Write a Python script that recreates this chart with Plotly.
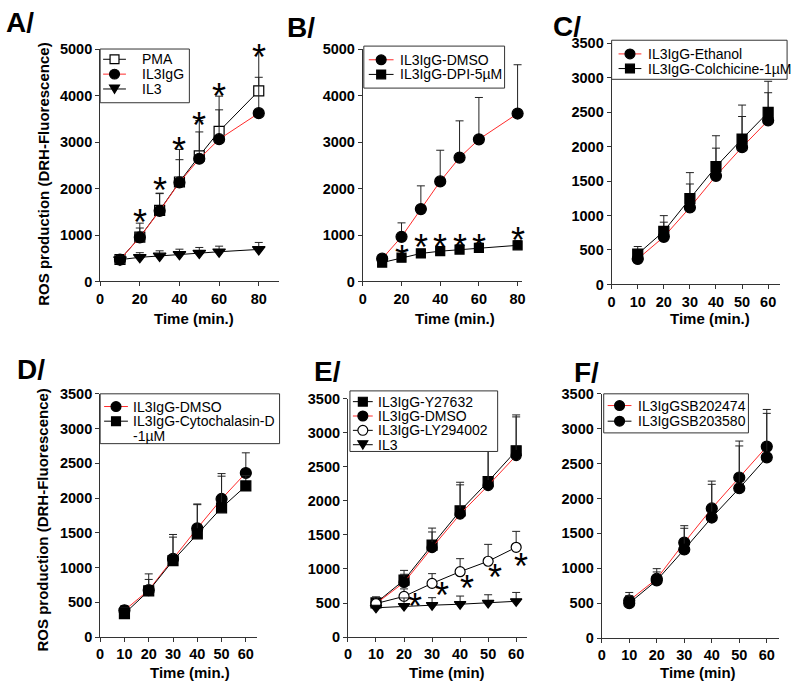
import plotly.graph_objects as go

# ---------------- data ----------------
# Panel A
a_time = [10, 20, 30, 40, 50, 60, 80]
a_pma = [473, 955, 1530, 2140, 2700, 3230, 4100]
a_pma_err = [50, 300, 370, 700, 760, 756, 900]
a_il3igg = [470, 950, 1520, 2130, 2640, 3060, 3620]
a_il3igg_err = [40, 200, 370, 490, 577, 632, 772]
a_il3 = [470, 520, 550, 585, 612, 640, 690]
a_il3_err = [60, 100, 110, 110, 120, 120, 150]
a_star_x = [20, 30, 40, 50, 60, 80]
a_star_y = [1435, 2136, 2990, 3536, 4145, 5000]

# Panel B
b_time = [10, 20, 30, 40, 50, 60, 80]
b_dmso = [491, 961, 1557, 2153, 2665, 3058, 3612]
b_dmso_err = [90, 300, 500, 670, 790, 900, 1050]
b_dpi = [407, 512, 603, 652, 687, 722, 778]
b_dpi_err = [40, 80, 90, 100, 100, 100, 100]
b_star_x = [20, 30, 40, 50, 60, 80]
b_star_y = [666, 897, 897, 897, 897, 1050]

# Panel C
c_time = [10, 20, 30, 40, 50, 60]
c_ethanol = [369, 690, 1116, 1575, 1991, 2379]
c_ethanol_err = [80, 213, 341, 402, 445, 402]
c_colch = [440, 771, 1244, 1708, 2110, 2497]
c_colch_err = [110, 227, 378, 449, 492, 450]

# Panel D
d_time = [10, 20, 30, 40, 50, 60]
d_dmso = [384, 675, 1124, 1565, 1987, 2361]
d_dmso_err = [70, 234, 352, 340, 365, 290]
d_cyto = [337, 665, 1101, 1485, 1860, 2174]
d_cyto_err = [80, 164, 337, 430, 455, 150]

# Panel E
e_time = [10, 20, 30, 40, 50, 60]
e_y27632 = [501, 836, 1351, 1853, 2283, 2736]
e_y27632_err = [90, 143, 249, 420, 549, 526]
e_dmso = [492, 802, 1313, 1805, 2225, 2665]
e_dmso_err = [60, 120, 230, 430, 569, 568]
e_ly = [492, 597, 788, 960, 1113, 1318]
e_ly_err = [60, 110, 143, 191, 248, 234]
e_il3 = [430, 454, 468, 482, 501, 525]
e_il3_err = [0, 120, 110, 120, 120, 130]
e_star_x = [24, 33.4, 42.3, 52.6, 61.7]
e_star_y = [560, 730, 830, 990, 1150]

# Panel F
f_time = [10, 20, 30, 40, 50, 60]
f_sb202474 = [537, 849, 1367, 1857, 2301, 2744]
f_sb202474_err = [116, 145, 243, 392, 522, 532]
f_sb203580 = [499, 826, 1269, 1727, 2147, 2590]
f_sb203580_err = [108, 121, 304, 476, 606, 630]

# ---------------- styling helpers ----------------
W, H = 800, 689
FONT = "Liberation Sans"
RED = "#ff2a2a"
AXC = "#333333"


def px(x):
    return x / W


def py(y):
    return 1 - y / H


fig = go.Figure()
shapes = []
annotations = []
legend_entries = {n: [] for n in range(1, 7)}


def series(x, y, err, name, line_color, symbol, fill, size, n):
    fig.add_trace(go.Scatter(
        x=x, y=y, name=name.replace("<br>", " "), mode="lines+markers",
        line=dict(color=line_color, width=1),
        marker=dict(symbol=symbol, size=size, color=fill,
                    line=dict(color="black", width=1.2)),
        error_y=dict(type="data", symmetric=False, array=err,
                     arrayminus=[0] * len(err), color="#222222",
                     thickness=1, width=4),
        xaxis="x" if n == 1 else f"x{n}",
        yaxis="y" if n == 1 else f"y{n}",
        showlegend=False, cliponaxis=False, hoverinfo="x+y+name",
    ))
    legend_entries[n].append((name, line_color, symbol, fill))


def stars(x, y, n):
    xs = "" if n == 1 else str(n)
    for xv, yv in zip(x, y):
        annotations.append(dict(text="*", x=xv, y=yv, xref=f"x{xs}", yref=f"y{xs}",
                                showarrow=False, xanchor="center", yanchor="middle",
                                yshift=-8,
                                font=dict(family=FONT, size=36, color="black")))


# Panel A
series(a_time, a_pma, a_pma_err, "PMA", "black", "square", "white", 10, 1)
series(a_time, a_il3igg, a_il3igg_err, "IL3IgG", RED, "circle", "black", 11, 1)
series(a_time, a_il3, a_il3_err, "IL3", "black", "triangle-down", "black", 11, 1)
stars(a_star_x, a_star_y, 1)

# Panel B
series(b_time, b_dmso, b_dmso_err, "IL3IgG-DMSO", RED, "circle", "black", 11, 2)
series(b_time, b_dpi, b_dpi_err, "IL3IgG-DPI-5µM", "black", "square", "black", 9, 2)
stars(b_star_x, b_star_y, 2)

# Panel C
series(c_time, c_ethanol, c_ethanol_err, "IL3IgG-Ethanol", RED, "circle", "black", 11, 3)
series(c_time, c_colch, c_colch_err, "IL3IgG-Colchicine-1µM", "black", "square", "black", 10, 3)

# Panel D
series(d_time, d_dmso, d_dmso_err, "IL3IgG-DMSO", RED, "circle", "black", 11, 4)
series(d_time, d_cyto, d_cyto_err, "IL3IgG-Cytochalasin-D<br>-1µM", "black", "square", "black", 10, 4)

# Panel E
series(e_time, e_y27632, e_y27632_err, "IL3IgG-Y27632", "black", "square", "black", 10, 5)
series(e_time, e_dmso, e_dmso_err, "IL3IgG-DMSO", RED, "circle", "black", 10, 5)
series(e_time, e_ly, e_ly_err, "IL3IgG-LY294002", "black", "circle", "white", 10, 5)
series(e_time, e_il3, e_il3_err, "IL3", "black", "triangle-down", "black", 10, 5)
stars(e_star_x, e_star_y, 5)

# Panel F
series(f_time, f_sb202474, f_sb202474_err, "IL3IgGSB202474", RED, "circle", "black", 11, 6)
series(f_time, f_sb203580, f_sb203580_err, "IL3IgGSB203580", "black", "circle", "black", 11, 6)

# ---------------- axes ----------------
panels = {
    1: dict(x=(97, 277), y=(42, 280), xr=90, yr=5000, xd=20, yd=1000),
    2: dict(x=(362, 523), y=(42, 280), xr=82.5, yr=5000, xd=20, yd=1000),
    3: dict(x=(613, 783), y=(36, 283), xr=64.6, yr=3500, xd=10, yd=500),
    4: dict(x=(97, 255), y=(395, 644), xr=64.5, yr=3500, xd=10, yd=500),
    5: dict(x=(347, 528), y=(400, 644), xr=64, yr=3500, xd=10, yd=500),
    6: dict(x=(603, 782), y=(395, 645), xr=64.5, yr=3500, xd=10, yd=500),
}

tickfont = dict(family=FONT, size=14.5, color="black", weight="bold")
layout = dict(
    width=W, height=H, margin=dict(l=0, r=0, t=0, b=0),
    paper_bgcolor="white", plot_bgcolor="white", showlegend=False,
)
for n, p in panels.items():
    xs = "" if n == 1 else str(n)
    layout[f"xaxis{xs}"] = dict(
        domain=[px(p["x"][0]), px(p["x"][1])], range=[0, p["xr"]],
        anchor=f"y{xs}", tick0=0, dtick=p["xd"], showgrid=False, zeroline=False,
        showline=True, linecolor=AXC, linewidth=1,
        ticks="outside", ticklen=4, tickcolor=AXC, tickfont=tickfont,
    )
    layout[f"yaxis{xs}"] = dict(
        domain=[py(p["y"][1]), py(p["y"][0])], range=[0, p["yr"]],
        anchor=f"x{xs}", tick0=0, dtick=p["yd"], showgrid=False, zeroline=False,
        showline=True, linecolor=AXC, linewidth=1,
        ticks="outside", ticklen=4, tickcolor=AXC, tickfont=tickfont,
    )

# ---------------- legends (drawn as layout shapes + text) ----------------
# box: left, top, right, bottom, first-entry centre, spacing, line x0, line x1, text x
legend_boxes = {
    1: (97, 42, 187, 97, 52.5, 15.2, 100, 123, 137),
    2: (363, 39, 505, 82, 53, 15, 368, 393, 397),
    3: (613, 33, 790, 73, 47, 15, 620, 643, 648),
    4: (97, 395, 278, 446, 408, 15, 101, 125, 128),
    5: (349, 392, 498, 454, 403, 14.7, 352, 372, 375),
    6: (605, 395, 751, 435, 407, 16, 609, 633, 638),
}


def add_marker_shape(symbol, fill, cx, cy, r):
    common = dict(xref="paper", yref="paper", line=dict(color="black", width=1.2),
                  fillcolor=fill, layer="above")
    if symbol == "circle":
        shapes.append(dict(type="circle", x0=px(cx - r), x1=px(cx + r),
                           y0=py(cy + r), y1=py(cy - r), **common))
    elif symbol == "square":
        s = r * 0.9
        shapes.append(dict(type="rect", x0=px(cx - s), x1=px(cx + s),
                           y0=py(cy + s), y1=py(cy - s), **common))
    elif symbol == "triangle-down":
        path = (f"M {px(cx - r)},{py(cy - r * 0.8)} L {px(cx + r)},{py(cy - r * 0.8)} "
                f"L {px(cx)},{py(cy + r * 0.9)} Z")
        shapes.append(dict(type="path", path=path, **common))


for n, (left, top, right, bottom, y0, dy, lx0, lx1, tx) in legend_boxes.items():
    shapes.append(dict(type="rect", xref="paper", yref="paper",
                       x0=px(left), x1=px(right), y0=py(bottom), y1=py(top),
                       line=dict(color=AXC, width=1), fillcolor="white", layer="above"))
    row = 0
    for name, lc, sym, fill in legend_entries[n]:
        cy = y0 + row * dy
        shapes.append(dict(type="line", xref="paper", yref="paper",
                           x0=px(lx0), x1=px(lx1), y0=py(cy), y1=py(cy),
                           line=dict(color=lc, width=1), layer="above"))
        add_marker_shape(sym, fill, (lx0 + lx1) / 2, cy, 5)
        for k, part in enumerate(name.split("<br>")):
            annotations.append(dict(text=part, x=px(tx), y=py(cy + k * dy),
                                    xref="paper", yref="paper", showarrow=False,
                                    xanchor="left", yanchor="middle",
                                    font=dict(family=FONT, size=14, color="black")))
        row += len(name.split("<br>"))

# panel letters
for text, (x, y) in {"A/": (16, 15), "B/": (300, 20), "C/": (568, 19),
                     "D/": (27, 370), "E/": (326, 372), "F/": (588, 373)}.items():
    annotations.append(dict(text=text, x=px(x), y=py(y), xref="paper", yref="paper",
                            showarrow=False, xanchor="center", yanchor="middle",
                            font=dict(family=FONT, size=28, color="black", weight="bold")))
# x titles
for text, (x, y) in [("Time (min.)", (192, 318)), ("Time (min.)", (455, 318)),
                     ("Time (min.)", (712, 318)), ("Time (min.)", (188, 680)),
                     ("Time (min)", (447, 680)), ("Time (min)", (700, 680))]:
    annotations.append(dict(text=text, x=px(x), y=py(y), xref="paper", yref="paper",
                            showarrow=False, xanchor="center", yanchor="middle",
                            font=dict(family=FONT, size=15, color="black", weight="bold")))
# y titles
for y in (170, 524):
    annotations.append(dict(text="ROS production (DRH-Fluorescence)", x=px(39), y=py(y),
                            xref="paper", yref="paper", showarrow=False, textangle=-90,
                            xanchor="center", yanchor="middle",
                            font=dict(family=FONT, size=15, color="black", weight="bold")))

layout["annotations"] = annotations
layout["shapes"] = shapes
fig.update_layout(**layout)
fig.write_html("out.html", config={"displayModeBar": False},
               post_script="document.body.style.margin='0px';"
                           "document.body.style.overflow='hidden';")
